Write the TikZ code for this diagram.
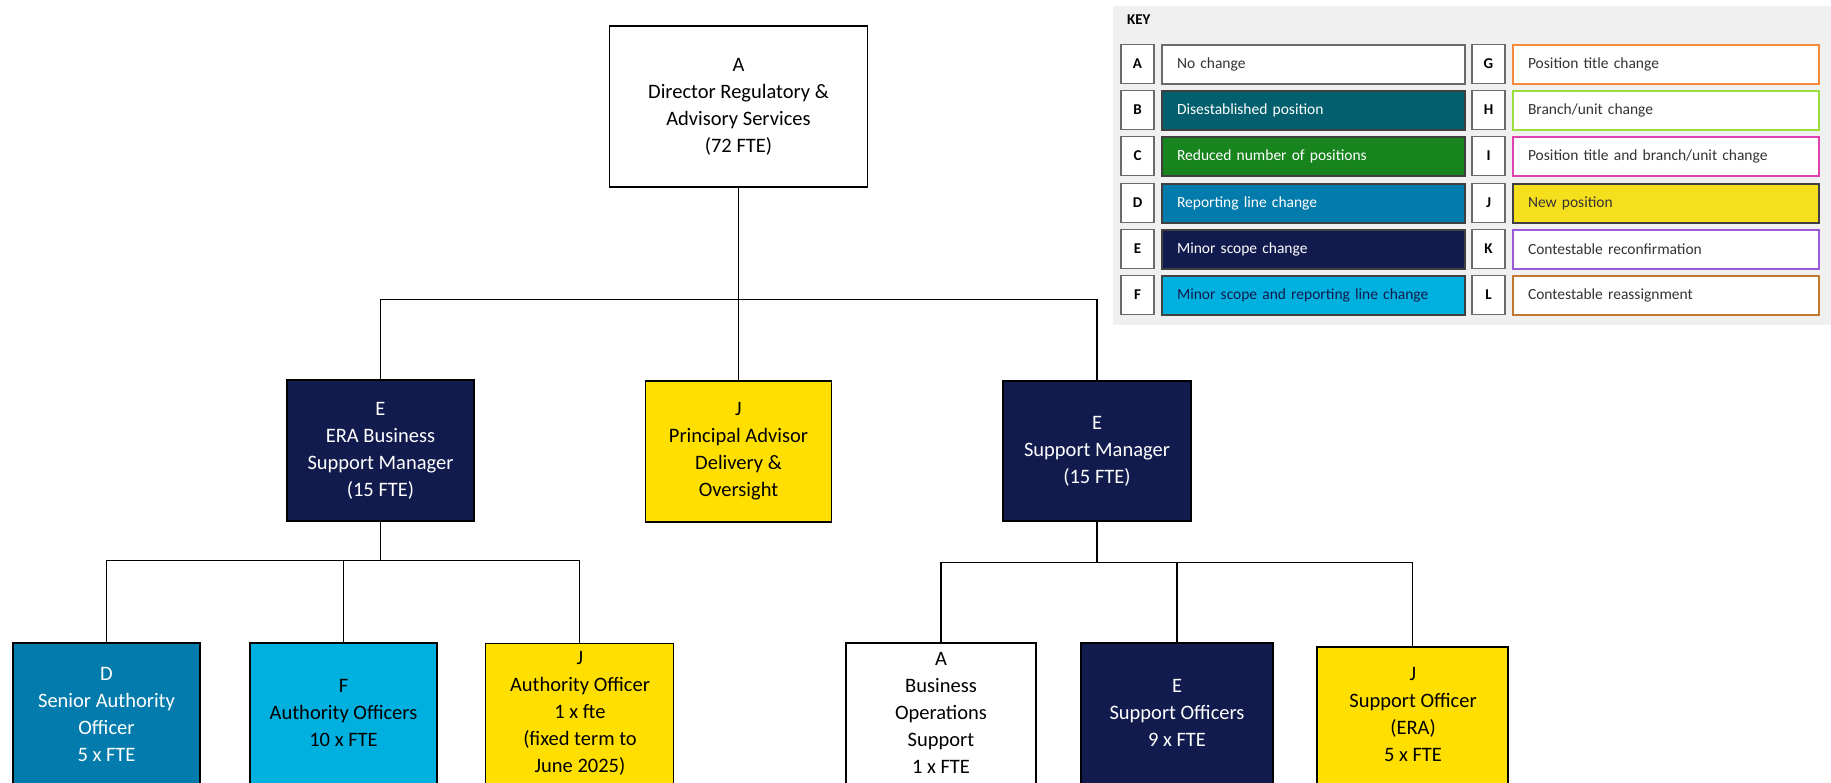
\documentclass[tikz,border=0pt]{standalone}
\usepackage{fontspec}
\setmainfont{Carlito}
\definecolor{navyE}{HTML}{121B4D}
\definecolor{blueD}{HTML}{037CAD}
\definecolor{cyanF}{HTML}{00B1E0}
\definecolor{yellowJ}{HTML}{FFDF00}
\definecolor{keyJ}{HTML}{F6E01E}
\definecolor{tealB}{HTML}{035F6D}
\definecolor{greenC}{HTML}{17841E}
\definecolor{orangeG}{HTML}{F7893B}
\definecolor{limeH}{HTML}{9ADF3A}
\definecolor{pinkI}{HTML}{E040B0}
\definecolor{purpleK}{HTML}{9B5BD9}
\definecolor{brownL}{HTML}{C0792F}
\definecolor{panel}{HTML}{F0F0F0}
\definecolor{kborder}{HTML}{404040}
\definecolor{lborder}{HTML}{6A6A6A}
\newcommand{\orgfont}{\fontsize{20.5}{27}\selectfont}
\newcommand{\keyfont}{\fontsize{15.5}{18}\selectfont}
\newcommand{\keyletterfont}{\fontsize{15}{18}\selectfont\bfseries}
\tikzset{
  orgbox/.style={draw=black, line width=1.5, inner sep=0, align=center, font=\orgfont},
  orgtext/.style={inner sep=0, align=center, font=\orgfont},
  link/.style={draw=black, line width=1.3},
  kletter/.style={draw=lborder, line width=1.6, fill=white, minimum width=33, minimum height=39, inner sep=0, font=\keyletterfont},
  kdesc/.style={line width=2, minimum height=39, inner xsep=15, inner ysep=0, align=left, font=\keyfont},
  kdescA/.style={kdesc, text width=273},
  kdescB/.style={kdesc, text width=276},
}
\begin{document}
\begin{tikzpicture}[x=1pt,y=-1pt]
\useasboundingbox (0,0) rectangle (1831,782);
\clip (0,0) rectangle (1831,782);
\fill[white] (0,0) rectangle (1831,782);

% ---------- org chart ----------
\node[orgbox, fill=white, minimum width=258, minimum height=161] (top) at (738.5,106.5)
  {A\\Director Regulatory \&\\Advisory Services\\(72 FTE)};

\node[orgbox, fill=navyE, text=white, minimum width=187, minimum height=141] (era) at (380.5,450.5)
  {E\\ERA Business\\Support Manager\\(15 FTE)};
\node[orgbox, fill=yellowJ, minimum width=186, minimum height=141] (pa) at (738.5,451.5)
  {J\\Principal Advisor\\Delivery \&\\Oversight};
\node[orgbox, fill=navyE, text=white, minimum width=188, minimum height=140] (sm) at (1097,451)
  {E\\Support Manager\\(15 FTE)};

% bottom row boxes (extend past the lower edge)
\node[orgbox, fill=blueD, minimum width=187, minimum height=170, anchor=north] (bD) at (106.5,642) {};
\node[orgbox, fill=cyanF, minimum width=187, minimum height=170, anchor=north] (bF) at (343.5,642) {};
\node[orgbox, fill=yellowJ, minimum width=188, minimum height=170, anchor=north] (bJa) at (579.5,642.5) {};
\node[orgbox, fill=white, minimum width=190, minimum height=170, anchor=north] (bA) at (941,642) {};
\node[orgbox, fill=navyE, minimum width=192, minimum height=170, anchor=north] (bE) at (1177,642) {};
\node[orgbox, fill=yellowJ, minimum width=191, minimum height=170, anchor=north] (bJb) at (1412.5,646) {};

\node[orgtext, text=white] (tD) at (106.5,714) {D\\Senior Authority\\Officer\\5 x FTE};
\node[orgtext] (tF) at (343.5,713) {F\\Authority Officers\\10 x FTE};
\node[orgtext] (tJa) at (580,713) {J\\Authority Officer\\1 x fte\\(fixed term to\\June 2025)};
\node[orgtext] (tA) at (941,713) {A\\Business\\Operations\\Support\\1 x FTE};
\node[orgtext, text=white] (tE) at (1177,713) {E\\Support Officers\\9 x FTE};
\node[orgtext] (tJb) at (1413,714) {J\\Support Officer\\(ERA)\\5 x FTE};

% connectors
\draw[link] (top.south) -- ++(0,112) coordinate (j1);
\draw[link] (era.north) |- (j1) -| (sm.north);
\draw[link] (j1) -- (pa.north);
\draw[link] (era.south) -- ++(0,39) coordinate (j2);
\draw[link] (bD.north) |- (j2) -| (bJa.north);
\draw[link] (j2) -| (bF.north);
\draw[link] (sm.south) -- ++(0,41) coordinate (j3);
\draw[link] (bA.north) |- (j3) -| (bJb.north);
\draw[link] (j3) -| (bE.north);

% ---------- key ----------
\fill[panel] (1113,6) rectangle (1831,325);
\node[anchor=west, inner sep=0, font=\keyletterfont] (keytitle) at (1127,20) {KEY};

\node[kletter] (lA) at (1137.5,64) {A};
\node[kletter] (lB) at (1137.5,110) {B};
\node[kletter] (lC) at (1137.5,156) {C};
\node[kletter] (lD) at (1137.5,203) {D};
\node[kletter] (lE) at (1137.5,249) {E};
\node[kletter] (lF) at (1137.5,295) {F};

\node[kdescA, draw=lborder, fill=white, text=black!80] (dA) at (1313.5,64) {No change};
\node[kdescA, draw=kborder, fill=tealB, text=white] (dB) at (1313.5,110) {Disestablished position};
\node[kdescA, draw=kborder, fill=greenC, text=white] (dC) at (1313.5,156) {Reduced number of positions};
\node[kdescA, draw=kborder, fill=blueD, text=white] (dD) at (1313.5,203) {Reporting line change};
\node[kdescA, draw=kborder, fill=navyE, text=white] (dE) at (1313.5,249) {Minor scope change};
\node[kdescA, draw=kborder, fill=cyanF, text=navyE] (dF) at (1313.5,295) {Minor scope and reporting line change};

\node[kletter] (lG) at (1488.5,64) {G};
\node[kletter] (lH) at (1488.5,110) {H};
\node[kletter] (lI) at (1488.5,156) {I};
\node[kletter] (lJ) at (1488.5,203) {J};
\node[kletter] (lK) at (1488.5,249) {K};
\node[kletter] (lL) at (1488.5,295) {L};

\node[kdescB, draw=orangeG, fill=white, text=black!80] (dG) at (1666,64) {Position title change};
\node[kdescB, draw=limeH, fill=white, text=black!80] (dH) at (1666,110) {Branch/unit change};
\node[kdescB, draw=pinkI, fill=white, text=black!80] (dI) at (1666,156) {Position title and branch/unit change};
\node[kdescB, draw=kborder, fill=keyJ, text=black!80] (dJ) at (1666,203) {New position};
\node[kdescB, draw=purpleK, fill=white, text=black!80] (dK) at (1666,249) {Contestable reconfirmation};
\node[kdescB, draw=brownL, fill=white, text=black!80] (dL) at (1666,295) {Contestable reassignment};
\end{tikzpicture}
\end{document}
